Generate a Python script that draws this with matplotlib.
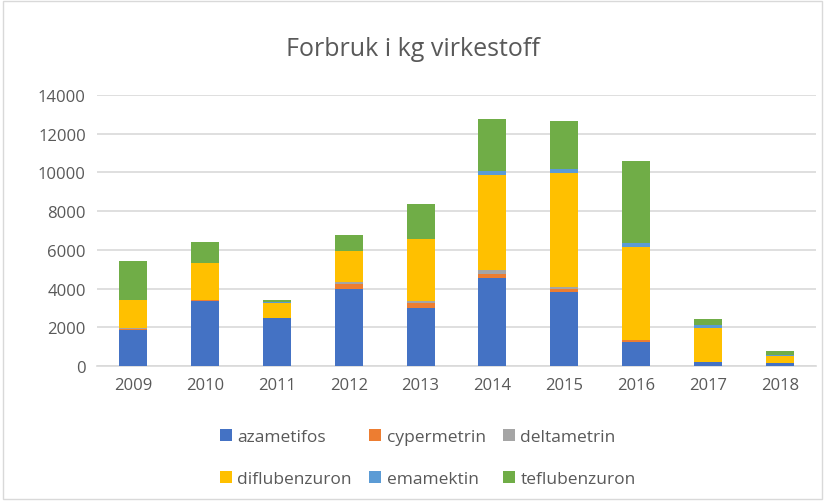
import numpy as np
import matplotlib.pyplot as plt
from matplotlib.patches import Rectangle

# Forbruk i kg virkestoff per år
aar = ['2009', '2010', '2011', '2012', '2013', '2014', '2015', '2016', '2017', '2018']
azametifos = [1860, 3350, 2460, 4000, 2990, 4570, 3830, 1240, 210, 140]
cypermetrin = [30, 50, 0, 220, 240, 170, 150, 100, 0, 0]
deltametrin = [80, 0, 0, 140, 140, 210, 100, 0, 0, 0]
diflubenzuron = [1430, 1940, 770, 1590, 3210, 4930, 5870, 4790, 1770, 390]
emamektin = [0, 0, 100, 0, 0, 190, 220, 230, 130, 40]
teflubenzuron = [2050, 1070, 70, 820, 1770, 2680, 2510, 4220, 330, 200]

serier = [
    ('azametifos', azametifos, '#4472C4'),
    ('cypermetrin', cypermetrin, '#ED7D31'),
    ('deltametrin', deltametrin, '#A5A5A5'),
    ('diflubenzuron', diflubenzuron, '#FFC000'),
    ('emamektin', emamektin, '#5B9BD5'),
    ('teflubenzuron', teflubenzuron, '#70AD47'),
]

plt.rcParams['font.family'] = ['Open Sans', 'DejaVu Sans']
tekstfarge = '#595959'

fig = plt.figure(figsize=(8.25, 5.02), dpi=100)
ax = fig.add_axes([97 / 825, 1 - 367 / 502, 719 / 825, 271 / 502])

x = np.arange(len(aar))
bunn = np.zeros(len(aar))
for navn, verdier, farge in serier:
    verdier = np.array(verdier, dtype=float)
    ax.bar(x, verdier, width=0.39, bottom=bunn, color=farge, label=navn, zorder=3)
    bunn += verdier

ax.set_xlim(-0.5, len(aar) - 0.5)
ax.set_ylim(0, 14000)
ax.set_yticks(np.arange(0, 14001, 2000))
ax.set_xticks(x)
ax.set_xticklabels(aar)
ax.yaxis.grid(True, color='#D9D9D9', linewidth=1.2, zorder=0)
for s in ['top', 'right', 'left']:
    ax.spines[s].set_visible(False)
ax.spines['bottom'].set_color('#D9D9D9')
ax.spines['bottom'].set_linewidth(1.2)
ax.tick_params(axis='both', length=0, labelsize=12, colors=tekstfarge, pad=8)

fig.text(0.5, 1 - 50 / 502, 'Forbruk i kg virkestoff', ha='center', va='center',
         fontsize=18, color=tekstfarge)

# legenden fylles radvis som i Excel
h, l = ax.get_legend_handles_labels()
rekkefolge = [0, 3, 1, 4, 2, 5]
ax.legend([h[i] for i in rekkefolge], [l[i] for i in rekkefolge],
          loc='upper center', bbox_to_anchor=(0.46, -0.175), ncol=3, frameon=False,
          fontsize=12.5, labelcolor=tekstfarge, handlelength=0.7, handleheight=0.7,
          handletextpad=0.3, columnspacing=1.0, labelspacing=1.5)

fig.patches.append(Rectangle((0.004, 0.004), 0.992, 0.992, transform=fig.transFigure,
                             fill=False, edgecolor='#D9D9D9', linewidth=1))

fig.savefig('out.png', dpi=100)
